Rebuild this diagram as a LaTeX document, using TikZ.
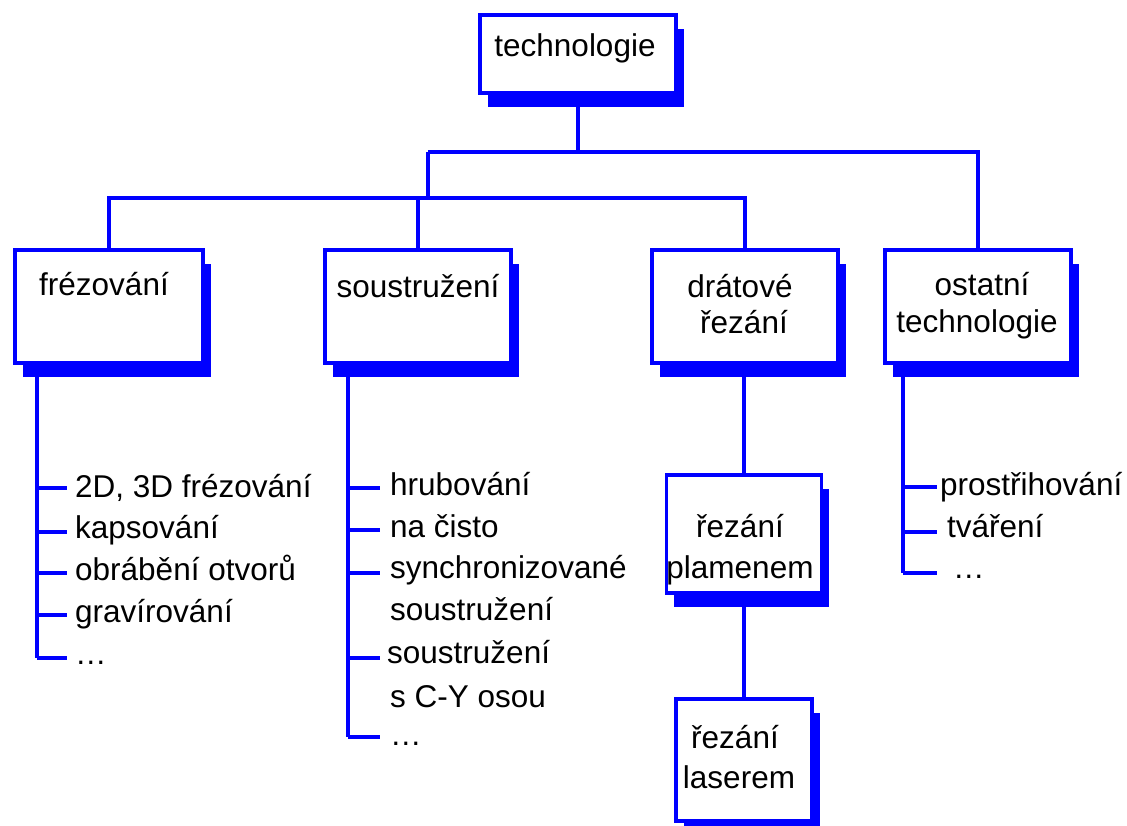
\documentclass[tikz,border=0pt]{standalone}
\usepackage{fontspec}
\setmainfont{Liberation Sans}
\usetikzlibrary{shadows}
\begin{document}
\begin{tikzpicture}[x=1pt,y=-1pt,
  box/.style={draw=blue, line width=3.8pt, fill=white, inner sep=0pt,
    drop shadow={shadow xshift=7.5pt, shadow yshift=-13.5pt, fill=blue, opacity=1}},
  conn/.style={draw=blue, line width=3.8pt},
  txt/.style={font=\fontsize{31.5}{38}\selectfont, inner sep=0pt, anchor=base},
  item/.style={txt, anchor=base west}]
\useasboundingbox (0,0) rectangle (1127,825);
\fill[white] (0,0) rectangle (1127,825);

% boxes
\node[box, minimum width=196pt, minimum height=78pt] (tech) at (578,54) {};
\node[box, minimum width=188pt, minimum height=113pt] (fr) at (109,306.5) {};
\node[box, minimum width=186pt, minimum height=113pt] (so) at (418,306.5) {};
\node[box, minimum width=186pt, minimum height=113pt] (dr) at (745,306.5) {};
\node[box, minimum width=186pt, minimum height=113pt] (os) at (978,306.5) {};
\node[box, minimum width=155pt, minimum height=118pt] (pl) at (744,534) {};
\node[box, minimum width=136pt, minimum height=122pt] (la) at (744,760) {};

% box texts
\node[txt] (t0) at (575,56) {technologie};
\node[txt] (t1) at (104,295) {frézování};
\node[txt] (t2) at (418,297) {soustružení};
\node[txt] (t3a) at (740,297) {drátové};
\node[txt] (t3b) at (744,333) {řezání};
\node[txt] (t4a) at (982,295) {ostatní};
\node[txt] (t4b) at (977,332) {technologie};
\node[txt] (t5a) at (740,537) {řezání};
\node[txt] (t5b) at (740,578) {plamenem};
\node[txt] (t6a) at (735,748) {řezání};
\node[txt] (t6b) at (739,788) {laserem};

% tree connectors
\coordinate (j1) at (428,152);
\coordinate (j2) at (428,198);
\draw[conn] (tech.south) -- (tech.south |- j1);
\draw[conn] (j1) -- (j1 -| os.north) -- (os.north);
\draw[conn] (j1) -- (j2);
\draw[conn] (fr.north) -- (fr.north |- j2) -- (dr.north |- j2) -- (dr.north);
\draw[conn] (so.north) -- (so.north |- j2);
\draw[conn] (pl.north |- dr.south) -- (pl.north);
\draw[conn] (la.north |- pl.south) -- (la.north);

% list stems
\coordinate (fre) at (37,658);
\coordinate (soe) at (348,737);
\coordinate (ose) at (903,573);
\draw[conn] (fre |- fr.south) -- (fre);
\draw[conn] (soe |- so.south) -- (soe);
\draw[conn] (ose |- os.south) -- (ose);

% ticks
\foreach \y in {488,532,573,615,658} \draw[conn] (37,\y) -- (67,\y);
\foreach \y in {488,530,573,658,737} \draw[conn] (348,\y) -- (380,\y);
\foreach \y in {487,532,573} \draw[conn] (903,\y) -- (937,\y);

% items
\node[item] (f1) at (75,497) {2D, 3D frézování};
\node[item] (f2) at (75,538) {kapsování};
\node[item] (f3) at (75,580) {obrábění otvorů};
\node[item] (f4) at (75,622) {gravírování};
\node[item] (f5) at (75,664) {…};

\node[item] (s1) at (390,495) {hrubování};
\node[item] (s2) at (390,537) {na čisto};
\node[item] (s3) at (390,578) {synchronizované};
\node[item] (s4) at (390,620) {soustružení};
\node[item] (s5) at (387,663) {soustružení};
\node[item] (s6) at (390,707) {s C-Y osou};
\node[item] (s7) at (390,745) {…};

\node[item] (o1) at (940,495) {prostřihování};
\node[item] (o2) at (947,537) {tváření};
\node[item] (o3) at (953,578) {…};
\end{tikzpicture}
\end{document}
